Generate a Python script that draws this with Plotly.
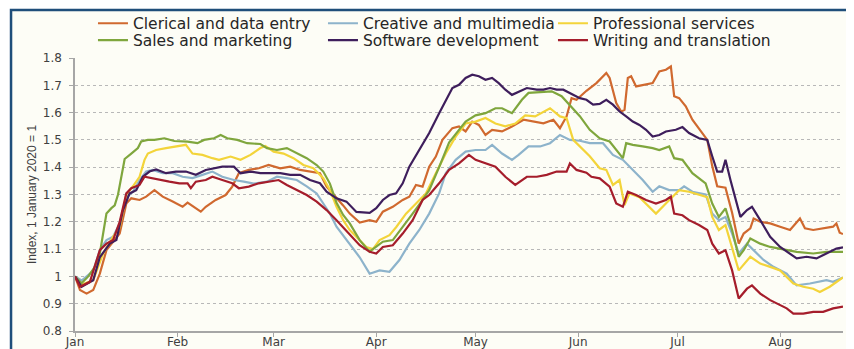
import pandas as pd
import plotly.graph_objects as go

BASE = pd.Timestamp("2020-01-01")

series_names = ["Clerical and data entry", "Creative and multimedia", "Professional services",
                "Sales and marketing", "Software development", "Writing and translation"]
series_colors = ["#D0692F", "#8DB3CB", "#F3D43A", "#7FA63D", "#3E1E5C", "#A51D2B"]
legend_row = ["legend", "legend", "legend", "legend2", "legend2", "legend2"]

month_ticks = ["2020-01-01", "2020-02-01", "2020-03-01", "2020-04-01",
               "2020-05-01", "2020-06-01", "2020-07-01", "2020-08-01"]
month_labels = ["Jan", "Feb", "Mar", "Apr", "May", "Jun", "Jul", "Aug"]
y_ticks = [0.8, 0.9, 1.0, 1.1, 1.2, 1.3, 1.4, 1.5, 1.6, 1.7, 1.8]
y_labels = ["0.8", "0.9", "1", "1.1", "1.2", "1.3", "1.4", "1.5", "1.6", "1.7", "1.8"]

# days since 1 January 2020, and index values
clerical_days = [0, 1.5, 3.5, 5.5, 7.5, 9.5, 11.5, 13.5, 15.5, 17, 19.5, 21.5, 24, 26.5, 29.5, 32.5, 34, 36.5, 38, 39.5,
                 42.5, 45.5, 47.5, 49.5, 52.5, 55.5, 58.5, 62, 65, 68, 71, 74, 76, 79, 81, 83, 86, 89, 91, 93, 96, 99,
                 101, 103, 105, 107, 109, 111, 114, 116, 118, 120, 122, 124, 126, 129, 132, 135.5, 138.5, 141.5, 144.5,
                 146.5, 148.5, 150, 151.5, 154.5, 157.5, 160.5, 161.5, 163.5, 165, 166, 167, 168, 169.5, 172.5, 174.5,
                 176.5, 178.5, 180, 181, 182.5, 184.5, 186.5, 189.5, 191, 192.5, 194, 196.5, 198.5, 200.5, 202, 204,
                 205, 207, 210, 213, 216, 219, 220.5, 223, 226, 229, 230, 231, 232]
clerical_vals = [1.0, 0.95, 0.937, 0.95, 1.01, 1.096, 1.127, 1.157, 1.267, 1.286, 1.28, 1.292, 1.316, 1.292, 1.274, 1.255,
                 1.27, 1.249, 1.237, 1.255, 1.28, 1.298, 1.329, 1.378, 1.39, 1.396, 1.408, 1.396, 1.402, 1.39, 1.384,
                 1.378, 1.329, 1.29, 1.26, 1.23, 1.197, 1.206, 1.20, 1.237, 1.255, 1.28, 1.292, 1.335, 1.329, 1.402,
                 1.439, 1.50, 1.543, 1.549, 1.531, 1.567, 1.555, 1.518, 1.537, 1.531, 1.549, 1.574, 1.567, 1.561, 1.574,
                 1.543, 1.586, 1.653, 1.647, 1.68, 1.708, 1.745, 1.727, 1.635, 1.604, 1.61, 1.727, 1.733, 1.696, 1.702,
                 1.708, 1.751, 1.757, 1.769, 1.66, 1.653, 1.623, 1.574, 1.525, 1.50, 1.404, 1.33, 1.325, 1.233, 1.12,
                 1.157, 1.176, 1.212, 1.20, 1.194, 1.182, 1.17, 1.212, 1.176, 1.17, 1.176, 1.182, 1.194, 1.16, 1.155]

creative_days = [0, 2, 5.5, 7.5, 9.5, 11.5, 13.5, 15.5, 17.5, 19.5, 21.5, 23.5, 26.5, 29.5, 32.5, 35.5, 38.5, 41.5, 44.5,
                 48, 51, 54, 58, 61, 64, 67, 70, 73, 75, 77, 79, 81, 83, 86, 89, 92, 95, 98, 101, 104, 107, 110, 112,
                 115, 118, 121, 124, 126, 129, 132, 134, 137, 140.5, 143.5, 146.5, 149.5, 152.5, 155.5, 159.5, 162.5,
                 165.5, 168.5, 171.5, 174.5, 176.5, 179.5, 182.5, 184, 186.5, 190.5, 192.5, 194.5, 196.5, 198.5, 200.5,
                 203, 205, 208, 211, 215, 218, 222, 227, 229, 232]
creative_vals = [1.0, 0.985, 1.02, 1.096, 1.133, 1.145, 1.194, 1.29, 1.31, 1.353, 1.384, 1.39, 1.378, 1.378, 1.365, 1.36,
                 1.372, 1.384, 1.365, 1.353, 1.347, 1.34, 1.347, 1.365, 1.36, 1.353, 1.33, 1.304, 1.267, 1.23, 1.182,
                 1.15, 1.12, 1.07, 1.01, 1.022, 1.017, 1.06, 1.12, 1.17, 1.23, 1.304, 1.378, 1.427, 1.457, 1.463, 1.463,
                 1.482, 1.45, 1.427, 1.445, 1.476, 1.476, 1.488, 1.518, 1.50, 1.497, 1.488, 1.488, 1.445, 1.427, 1.39,
                 1.353, 1.31, 1.33, 1.316, 1.316, 1.33, 1.31, 1.30, 1.23, 1.206, 1.218, 1.157, 1.084, 1.12, 1.096, 1.06,
                 1.035, 1.01, 0.967, 0.974, 0.986, 0.98, 0.996]

professional_days = [0, 2, 5.5, 8.5, 11.5, 13.5, 15.5, 17.5, 19.5, 21, 22, 24.5, 27.5, 30.5, 33.5, 35.5, 38.5, 41.5, 43.5,
                     47, 50, 53, 56, 57.5, 60, 63, 66, 69, 72, 75, 77, 79, 81, 83, 85, 88, 90, 92, 95, 97, 100, 103,
                     106, 109, 112, 115, 118, 121, 124, 127, 130, 133, 136, 139, 143.5, 146.5, 148.5, 150.5, 152.5,
                     155.5, 158.5, 160.5, 162.5, 164.5, 166, 167.5, 170.5, 173.5, 175.5, 178.5, 180.5, 182.5, 185.5,
                     188.5, 191, 192.5, 194.5, 196.5, 198.5, 200.5, 204, 207, 210, 213, 217, 220, 223, 225, 228, 232]
professional_vals = [1.0, 0.97, 0.986, 1.084, 1.145, 1.18, 1.30, 1.33, 1.365, 1.427, 1.45, 1.463, 1.47, 1.476, 1.482,
                     1.45, 1.445, 1.433, 1.427, 1.439, 1.427, 1.445, 1.47, 1.478, 1.457, 1.45, 1.433, 1.408, 1.396, 1.36,
                     1.317, 1.255, 1.206, 1.17, 1.145, 1.108, 1.10, 1.133, 1.151, 1.18, 1.23, 1.267, 1.304, 1.378, 1.45,
                     1.512, 1.56, 1.567, 1.58, 1.56, 1.55, 1.56, 1.59, 1.586, 1.616, 1.586, 1.58, 1.50, 1.476, 1.44,
                     1.396, 1.39, 1.335, 1.353, 1.261, 1.304, 1.29, 1.255, 1.23, 1.267, 1.29, 1.316, 1.31, 1.30, 1.29,
                     1.218, 1.17, 1.188, 1.108, 1.022, 1.072, 1.047, 1.035, 1.022, 0.974, 0.962, 0.955, 0.943, 0.962,
                     0.996]

sales_days = [0, 2, 4, 6, 7.5, 8.5, 9.5, 11, 12, 13, 14, 15, 17, 19, 20, 22, 24, 27, 30, 34, 37, 39, 42, 44, 46, 49, 52,
              56, 58, 61, 64, 67, 70, 73, 75, 77, 79, 81, 83, 86, 89, 90, 93, 96, 99, 102, 105, 107, 110, 113, 116, 118,
              121, 124, 127, 129, 132, 135, 137, 140, 144, 147, 150, 152.5, 155.5, 158.5, 161.5, 163.5, 165.5, 166.5,
              168.5, 171.5, 174.5, 176.5, 179.5, 181, 183.5, 186.5, 190.5, 192.5, 194.5, 196.5, 198.5, 200.5, 202, 204,
              207, 210, 214, 218, 223, 227, 232]
sales_vals = [1.0, 0.975, 1.0, 1.035, 1.084, 1.157, 1.23, 1.25, 1.26, 1.30, 1.36, 1.43, 1.45, 1.47, 1.494, 1.50, 1.50,
              1.506, 1.496, 1.494, 1.488, 1.50, 1.506, 1.518, 1.506, 1.50, 1.488, 1.485, 1.47, 1.463, 1.47, 1.45, 1.433,
              1.408, 1.384, 1.34, 1.27, 1.225, 1.194, 1.133, 1.09, 1.10, 1.127, 1.133, 1.18, 1.23, 1.28, 1.316, 1.40,
              1.49, 1.537, 1.567, 1.59, 1.598, 1.616, 1.616, 1.598, 1.647, 1.672, 1.674, 1.678, 1.66, 1.62, 1.587,
              1.537, 1.506, 1.494, 1.463, 1.433, 1.488, 1.482, 1.476, 1.47, 1.463, 1.476, 1.433, 1.427, 1.378, 1.341,
              1.267, 1.218, 1.249, 1.17, 1.072, 1.096, 1.139, 1.12, 1.108, 1.10, 1.09, 1.084, 1.09, 1.09]

software_days = [0, 2, 5.5, 7.5, 10.5, 12.5, 14.5, 16.5, 18.5, 20.5, 22.5, 24.5, 27.5, 30.5, 33.5, 36.5, 39.5, 42.5, 44.5,
                 48, 50, 53, 56, 59, 62, 65, 68, 71, 74, 76, 79, 82, 85, 89, 91, 93, 95, 97, 99, 101, 104, 107, 110,
                 112, 114, 116, 118, 120, 122, 124, 126, 128, 130, 132, 134.5, 136.5, 139.5, 141.5, 143.5, 145.5,
                 147.5, 149.5, 152.5, 154.5, 156.5, 158.5, 160.5, 162.5, 164.5, 166.5, 168.5, 170.5, 172.5, 174.5,
                 176.5, 178.5, 181.5, 183.5, 185.5, 188.5, 191, 192.5, 194, 195.5, 196.5, 198, 199.5, 201, 203, 204.5,
                 207, 210, 213, 216, 218, 221, 224, 227, 230, 232]
software_vals = [1.0, 0.962, 0.986, 1.07, 1.12, 1.133, 1.243, 1.304, 1.316, 1.365, 1.384, 1.392, 1.378, 1.384, 1.384,
                 1.372, 1.39, 1.396, 1.402, 1.402, 1.378, 1.384, 1.378, 1.378, 1.378, 1.372, 1.372, 1.353, 1.341, 1.31,
                 1.286, 1.274, 1.236, 1.233, 1.25, 1.28, 1.298, 1.304, 1.341, 1.402, 1.463, 1.525, 1.598, 1.647, 1.69,
                 1.702, 1.727, 1.739, 1.733, 1.72, 1.727, 1.708, 1.684, 1.665, 1.678, 1.69, 1.684, 1.684, 1.69, 1.684,
                 1.684, 1.672, 1.653, 1.647, 1.629, 1.632, 1.647, 1.629, 1.604, 1.586, 1.567, 1.555, 1.537, 1.512,
                 1.518, 1.531, 1.537, 1.547, 1.525, 1.506, 1.50, 1.44, 1.384, 1.384, 1.427, 1.353, 1.28, 1.218, 1.243,
                 1.255, 1.206, 1.145, 1.108, 1.084, 1.066, 1.072, 1.066, 1.084, 1.102, 1.106]

writing_days = [0, 1.5, 4.5, 7.5, 9.5, 11.5, 13.5, 15.5, 17, 19.5, 21, 23, 25.5, 28.5, 31.5, 34, 35, 36.5, 39.5, 41.5,
                44.5, 47.5, 49.5, 52.5, 55.5, 58.5, 61.5, 64, 67, 70, 73, 76, 79, 81, 83, 86, 89, 91, 93, 96, 99, 102,
                105, 107, 110, 113, 116, 119, 121, 124, 127, 130, 133, 136.5, 139.5, 142.5, 145.5, 148.5, 149.5, 151.5,
                154.5, 156, 158.5, 161.5, 163.5, 165.5, 167, 169.5, 172.5, 175.5, 178.5, 180, 181, 183.5, 185.5, 188.5,
                191, 192.5, 194.5, 196.5, 198.5, 200.5, 203, 204.5, 207, 210, 213, 215, 217, 220, 223, 226, 229, 232]
writing_vals = [1.0, 0.962, 0.98, 1.096, 1.12, 1.133, 1.20, 1.304, 1.323, 1.335, 1.365, 1.36, 1.353, 1.347, 1.341,
                1.341, 1.323, 1.347, 1.353, 1.365, 1.353, 1.341, 1.323, 1.329, 1.341, 1.347, 1.353, 1.335, 1.316,
                1.298, 1.274, 1.243, 1.206, 1.18, 1.157, 1.114, 1.09, 1.084, 1.108, 1.114, 1.157, 1.206, 1.28, 1.298,
                1.341, 1.39, 1.414, 1.445, 1.427, 1.414, 1.402, 1.365, 1.335, 1.365, 1.365, 1.372, 1.384, 1.384, 1.414,
                1.39, 1.38, 1.365, 1.359, 1.329, 1.267, 1.255, 1.31, 1.298, 1.28, 1.267, 1.28, 1.292, 1.23, 1.224,
                1.206, 1.188, 1.17, 1.12, 1.084, 1.096, 1.022, 0.919, 0.955, 0.967, 0.937, 0.913, 0.895, 0.883, 0.864,
                0.864, 0.87, 0.87, 0.883, 0.889]

all_days = [clerical_days, creative_days, professional_days, sales_days, software_days, writing_days]
all_vals = [clerical_vals, creative_vals, professional_vals, sales_vals, software_vals, writing_vals]


def to_dates(days):
    return [BASE + pd.Timedelta(days=d) for d in days]


FONT = "DejaVu Sans, Liberation Sans, Arial, sans-serif"
fig = go.Figure()
for name, color, days, vals, lg in zip(series_names, series_colors, all_days, all_vals, legend_row):
    fig.add_trace(go.Scatter(x=to_dates(days), y=vals, mode="lines", name=name, legend=lg,
                             line=dict(color=color, width=2.2)))

# Frame of the chart panel
fig.add_shape(type="rect", xref="paper", yref="paper", x0=-0.0833, x1=1.06, y0=-0.12, y1=1.1758,
              line=dict(color="#1F4E7A", width=2.5), fillcolor="#FDFDF6", layer="below")

legend_common = dict(orientation="h", xanchor="left", yanchor="top",
                     entrywidth=185, entrywidthmode="pixels", itemwidth=30,
                     font=dict(family=FONT, size=15.5, color="#262626"), bgcolor="rgba(0,0,0,0)",
                     traceorder="normal")

# The page body adds an 8 px offset, so the figure is drawn 8 px smaller and shifted.
fig.update_layout(
    width=846, height=341,
    margin=dict(l=67, r=11, t=50, b=18, autoexpand=False),
    paper_bgcolor="white",
    plot_bgcolor="rgba(0,0,0,0)",
    font=dict(family=FONT, color="#404040", size=12),
    showlegend=True,
    legend=dict(x=0.0234, y=1.188, **legend_common),
    legend2=dict(x=0.0234, y=1.126, **legend_common),
)
fig.update_xaxes(
    range=["2020-01-01", "2020-08-20"], automargin=False,
    tickmode="array", tickvals=month_ticks, ticktext=month_labels,
    showgrid=False, showline=True, linecolor="#A6A6A6", linewidth=1.5,
    ticks="outside", ticklen=4, tickcolor="#A6A6A6", ticklabelstandoff=-5,
    tickfont=dict(size=12, color="#404040"), zeroline=False,
)
fig.update_yaxes(
    range=[0.8, 1.8], automargin=False,
    tickmode="array", tickvals=y_ticks, ticktext=y_labels,
    showgrid=True, gridcolor="#B8B8B8", griddash="dot", gridwidth=1,
    showline=True, linecolor="#A6A6A6", linewidth=1.5,
    ticks="outside", ticklen=4, tickcolor="#A6A6A6", ticklabelstandoff=5,
    tickfont=dict(size=12, color="#404040"), zeroline=False,
    title=dict(text="Index, 1 January 2020 = 1", standoff=4,
               font=dict(family="Liberation Sans Narrow, Arial Narrow, Liberation Sans, Arial", size=12,
                         color="#404040")),
)

fig.write_html("out.html")
